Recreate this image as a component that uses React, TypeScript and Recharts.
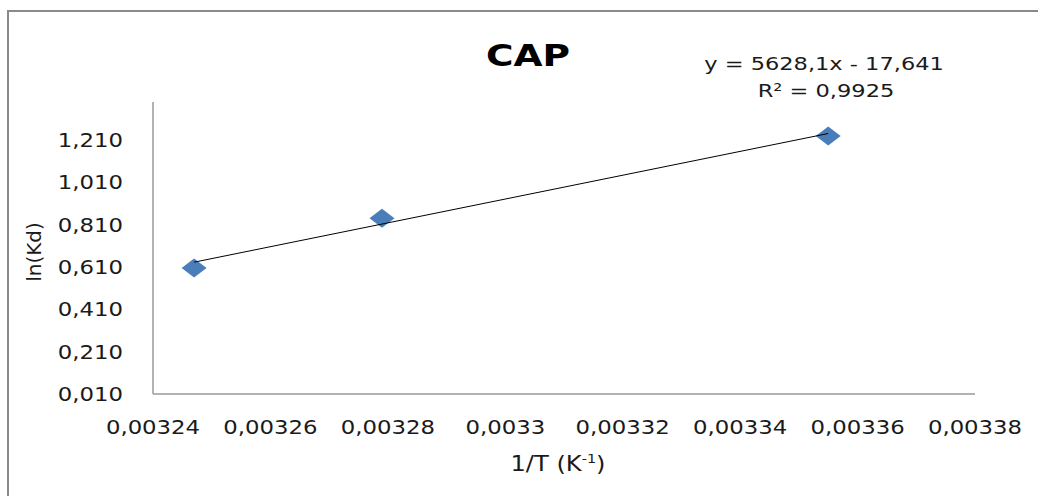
import React from "react";
import { ScatterChart, Scatter, XAxis, YAxis } from "recharts";

// values (1/T in K^-1, ln(Kd))
const invTemp = [0.003247, 0.003279, 0.003355];
const lnKd = [0.605, 0.841, 1.229];

// linear trendline end points (y = 5628,1x - 17,641)
const trendX = [0.003247, 0.003355];
const trendY = [0.633, 1.241];

const xTicks = [0.00324, 0.00326, 0.00328, 0.0033, 0.00332, 0.00334, 0.00336, 0.00338];
const xTickLabels = ["0,00324", "0,00326", "0,00328", "0,0033", "0,00332", "0,00334", "0,00336", "0,00338"];
const yTicks = [0.01, 0.21, 0.41, 0.61, 0.81, 1.01, 1.21];
const yTickLabels = ["0,010", "0,210", "0,410", "0,610", "0,810", "1,010", "1,210"];

const points = invTemp.map((x, i) => ({ x, y: lnKd[i] }));
const trend = trendX.map((x, i) => ({ x, y: trendY[i] }));

const FONT = "'DejaVu Sans', sans-serif";
const TEXT = "#1a1a1a";

const XTick = (props: any) => {
  const { x, y, payload } = props;
  const i = xTicks.indexOf(payload.value);
  return (
    <g transform={`translate(${x},${y + 38})`}>
      <text transform="scale(1.2,1)" textAnchor="middle" fontFamily={FONT} fontSize={19} fill={TEXT}>
        {xTickLabels[i]}
      </text>
    </g>
  );
};

const YTick = (props: any) => {
  const { x, y, payload } = props;
  const i = yTicks.indexOf(payload.value);
  return (
    <g transform={`translate(${x - 28},${y})`}>
      <text transform="scale(1.2,1)" textAnchor="end" dy="0.36em" fontFamily={FONT} fontSize={19} fill={TEXT}>
        {yTickLabels[i]}
      </text>
    </g>
  );
};

const Diamond = (props: any) => {
  const { cx, cy } = props;
  if (cx == null || cy == null) return <g />;
  const w = 12.5;
  const h = 9.5;
  return (
    <polygon
      points={`${cx - w},${cy} ${cx},${cy - h} ${cx + w},${cy} ${cx},${cy + h}`}
      fill="#4a7ebb"
    />
  );
};

const Label = ({ x, y, sx = 1.2, size, bold, children }: any) => (
  <div
    style={{
      position: "absolute",
      left: x,
      top: y,
      transform: `translate(-50%, -50%) scaleX(${sx})`,
      fontFamily: FONT,
      fontSize: size,
      fontWeight: bold ? "bold" : "normal",
      color: bold ? "#000" : TEXT,
      lineHeight: 1,
      whiteSpace: "nowrap",
    }}>
    {children}
  </div>
);

const App = () => {
  return (
    <div
      style={{
        position: "absolute",
        left: 0,
        top: 0,
        width: 1038,
        height: 496,
        overflow: "hidden",
        background: "#fff",
      }}>
      <div
        style={{
          position: "absolute",
          left: 7,
          top: 10,
          width: 1100,
          height: 600,
          borderTop: "2px solid #8a8a8a",
          borderLeft: "2px solid #8a8a8a",
        }}
      />
      <ScatterChart
        width={1038}
        height={496}
        margin={{ top: 102, right: 63, bottom: 72, left: 93 }}
        style={{ position: "absolute", left: 0, top: 0 }}>
        <XAxis
          type="number"
          dataKey="x"
          domain={[0.00324, 0.00338]}
          ticks={xTicks}
          allowDataOverflow
          height={30}
          tickSize={0}
          tickLine={false}
          axisLine={{ stroke: "#9a9a9a", strokeWidth: 1.5 }}
          tick={(p: any) => <XTick {...p} />}
        />
        <YAxis
          type="number"
          dataKey="y"
          domain={[0.01, 1.39]}
          ticks={yTicks}
          allowDataOverflow
          width={60}
          tickSize={0}
          tickLine={false}
          axisLine={{ stroke: "#9a9a9a", strokeWidth: 1.5 }}
          tick={(p: any) => <YTick {...p} />}
        />
        <Scatter data={points} shape={(p: any) => <Diamond {...p} />} isAnimationActive={false} />
        <Scatter
          data={trend}
          line={{ stroke: "#000", strokeWidth: 1 }}
          shape={() => <g />}
          isAnimationActive={false}
        />
      </ScatterChart>
      <Label x={528} y={56} size={30} sx={1.25} bold>
        CAP
      </Label>
      <Label x={824} y={64} size={18} sx={1.25}>
        y = 5628,1x - 17,641
      </Label>
      <Label x={826} y={91} size={18} sx={1.25}>
        R² = 0,9925
      </Label>
      <Label x={558} y={464} size={21} sx={1.15}>
        1/T (K<sup style={{ fontSize: "0.6em" }}>-1</sup>)
      </Label>
      <div
        style={{
          position: "absolute",
          left: 34,
          top: 252,
          transform: "translate(-50%, -50%) rotate(-90deg)",
          fontFamily: FONT,
          fontSize: 20,
          color: TEXT,
          lineHeight: 1,
          whiteSpace: "nowrap",
        }}>
        ln(Kd)
      </div>
    </div>
  );
};

export default App;
